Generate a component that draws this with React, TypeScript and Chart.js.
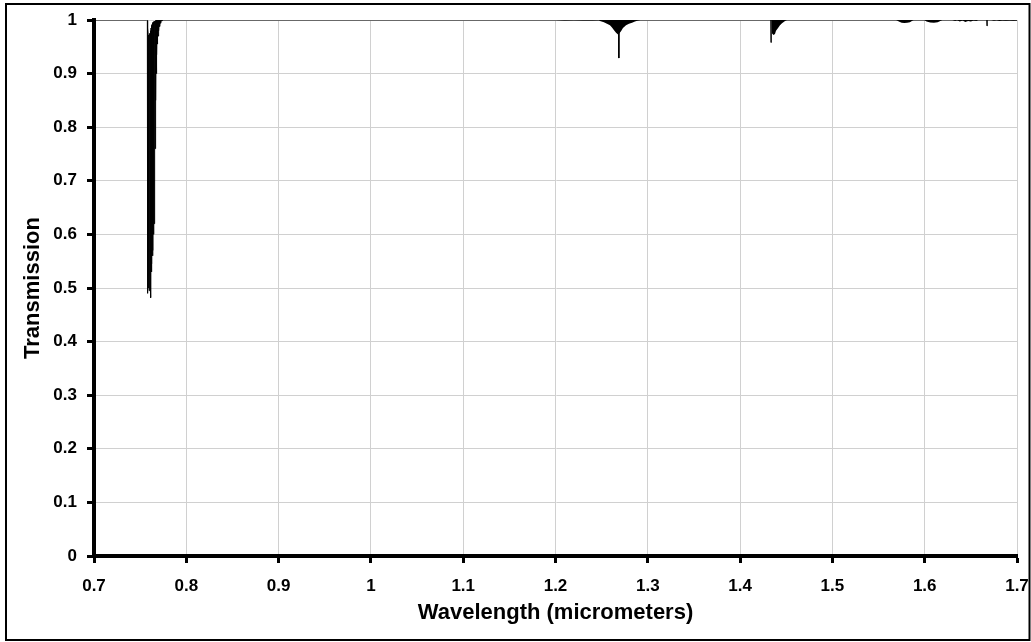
import { useEffect, useRef } from "react";
import { Chart, registerables } from "chart.js";

Chart.register(...registerables);

// ---- Tick labels ----
const xTickValues = [0.7, 0.8, 0.9, 1.0, 1.1, 1.2, 1.3, 1.4, 1.5, 1.6, 1.7];
const yTickValues = [0, 0.1, 0.2, 0.3, 0.4, 0.5, 0.6, 0.7, 0.8, 0.9, 1];

// ---- Main spectrum line: baseline, O2 A-band lines, single deep lines ----
const spectrumWavelength = [
  0.7, 0.757, 0.7578, 0.758, 0.7582, 0.7588, 0.7591, 0.7594, 0.7597, 0.76, 0.7603,
  0.7606, 0.7609, 0.7612, 0.7615, 0.7618, 0.7621, 0.7624, 0.7627, 0.763, 0.7633,
  0.7636, 0.7639, 0.7642, 0.7645, 0.7648, 0.7651, 0.7654, 0.7657, 0.766, 0.7663,
  0.7666, 0.7669, 0.7672, 0.7675, 0.7678, 0.7681, 0.7684, 0.7687, 0.769, 0.7694,
  0.7698, 0.7702, 0.7706, 0.7711, 0.7716, 0.7722, 0.7728, 0.7735, 0.7742,
  1.2684, 1.2686, 1.2688, 1.4333, 1.4335, 1.4337, 1.6673, 1.6675, 1.6677, 1.7,
];
const spectrumTransmission = [
  1, 1, 0.999, 0.49, 0.985, 0.97, 0.5, 0.972, 0.495, 0.968, 0.505,
  0.975, 0.515, 0.98, 0.482, 0.985, 0.53, 0.99, 0.545, 0.992, 0.56,
  0.995, 0.57, 0.996, 0.6, 0.997, 0.62, 0.998, 0.7, 0.998, 0.76,
  0.999, 0.85, 0.999, 0.9, 1, 0.935, 1, 0.955, 1, 0.97,
  1, 0.98, 1, 0.988, 1, 0.994, 1, 0.998, 1,
  1, 0.929, 1, 1, 0.958, 1, 1, 0.989, 1, 1,
];

// ---- Weak absorption bands (filled envelopes) ----
const band127Wavelength = [
  1.2, 1.21, 1.22, 1.23, 1.24, 1.247, 1.2482, 1.2525, 1.2558, 1.259, 1.2612, 1.2634,
  1.2656, 1.2677, 1.269, 1.271, 1.2731, 1.2764, 1.2796, 1.2829, 1.2861, 1.2894, 1.292,
];
const band127Transmission = [
  1, 0.9992, 0.9995, 0.9992, 0.999, 0.9995, 0.998, 0.996, 0.993, 0.99, 0.986, 0.981,
  0.976, 0.973, 0.975, 0.979, 0.985, 0.99, 0.993, 0.995, 0.997, 0.999, 1,
];

const band143Wavelength = [
  1.434, 1.4346, 1.4362, 1.4378, 1.4389, 1.4411, 1.4432, 1.4454, 1.4487, 1.4508,
];
const band143Transmission = [
  1, 0.975, 0.972, 0.974, 0.98, 0.985, 0.99, 0.994, 0.998, 1,
];

const band16Wavelength = [
  1.569, 1.572, 1.575, 1.578, 1.581, 1.584, 1.587, 1.588,
  1.5995, 1.602, 1.606, 1.61, 1.614, 1.617, 1.619,
  1.63, 1.633, 1.635, 1.638, 1.641, 1.644, 1.647, 1.65, 1.653, 1.656, 1.658,
  1.672, 1.675, 1.678, 1.681, 1.684, 1.688, 1.692, 1.696, 1.7,
];
const band16Transmission = [
  1, 0.997, 0.995, 0.9945, 0.995, 0.996, 0.999, 1,
  1, 0.997, 0.9955, 0.995, 0.996, 0.998, 1,
  1, 0.998, 0.9995, 0.997, 0.999, 0.9965, 0.998, 0.997, 0.999, 0.998, 1,
  1, 0.9985, 0.9995, 0.998, 0.999, 0.9985, 0.999, 0.9985, 0.999,
];

const toPoints = (xs: number[], ys: number[]) => xs.map((x, i) => ({ x, y: ys[i] }));

const FONT = "'Liberation Sans', Arial, sans-serif";

const frame = {
  id: "frame",
  afterDraw(chart: any) {
    const ctx = chart.ctx;
    ctx.save();
    ctx.strokeStyle = "#000";
    ctx.lineWidth = 2;
    ctx.strokeRect(6, 4, 1023.5, 636);
    ctx.restore();
  },
};

export default function App() {
  const ref = useRef<HTMLCanvasElement | null>(null);

  useEffect(() => {
    if (!ref.current) return;
    const fillBand = (xs: number[], ys: number[]) => ({
      data: toPoints(xs, ys),
      borderColor: "#000",
      backgroundColor: "#000",
      borderWidth: 0,
      pointRadius: 0,
      fill: { value: 1 },
      tension: 0,
    });
    const chart = new Chart(ref.current, {
      type: "line",
      data: {
        datasets: [
          fillBand(band127Wavelength, band127Transmission),
          fillBand(band143Wavelength, band143Transmission),
          fillBand(band16Wavelength, band16Transmission),
          {
            data: toPoints(spectrumWavelength, spectrumTransmission),
            borderColor: "#000",
            borderWidth: 1,
            pointRadius: 0,
            fill: false,
            tension: 0,
          },
        ],
      },
      options: {
        animation: false,
        responsive: false,
        devicePixelRatio: 1,
        layout: { padding: { left: 0, top: 20, right: 14, bottom: 0 } },
        plugins: { legend: { display: false }, tooltip: { enabled: false } },
        scales: {
          x: {
            type: "linear",
            min: 0.7,
            max: 1.7,
            afterBuildTicks: (s: any) => {
              s.ticks = xTickValues.map((v) => ({ value: v }));
            },
            afterFit: (s: any) => {
              s.height = 86;
              s.paddingLeft = 0;
              s.paddingRight = 0;
            },
            ticks: {
              color: "#000",
              font: { family: FONT, size: 17, weight: "bold" },
              padding: 13,
              maxRotation: 0,
              autoSkip: false,
              callback: (v: any) => String(Number(Number(v).toFixed(1))),
            },
            grid: {
              color: "#d0d0d0",
              lineWidth: 1,
              tickColor: "#000",
              tickWidth: 3,
              tickLength: 7,
            },
            border: { color: "#000", width: 4 },
            title: {
              display: true,
              text: "Wavelength (micrometers)",
              color: "#000",
              font: { family: FONT, size: 22, weight: "bold" },
              padding: { top: 0, bottom: 16 },
            },
          },
          y: {
            type: "linear",
            min: 0,
            max: 1,
            afterBuildTicks: (s: any) => {
              s.ticks = yTickValues.map((v) => ({ value: v }));
            },
            afterFit: (s: any) => {
              s.width = 94;
              s.paddingTop = 0;
              s.paddingBottom = 0;
            },
            ticks: {
              color: "#000",
              font: { family: FONT, size: 17, weight: "bold" },
              padding: 10,
              autoSkip: false,
              callback: (v: any) => String(Number(Number(v).toFixed(1))),
            },
            grid: {
              color: "#d0d0d0",
              lineWidth: 1,
              tickColor: "#000",
              tickWidth: 3,
              tickLength: 7,
            },
            border: { color: "#000", width: 4 },
            title: {
              display: true,
              text: "Transmission",
              color: "#000",
              font: { family: FONT, size: 22, weight: "bold" },
              padding: { top: 20, bottom: 0 },
            },
          },
        },
      },
      plugins: [frame],
    });
    return () => chart.destroy();
  }, []);

  return (
    <div style={{ position: "fixed", left: 0, top: 0, width: 1031, height: 642, background: "#fff" }}>
      <canvas ref={ref} width={1031} height={642} style={{ display: "block" }} />
    </div>
  );
}
